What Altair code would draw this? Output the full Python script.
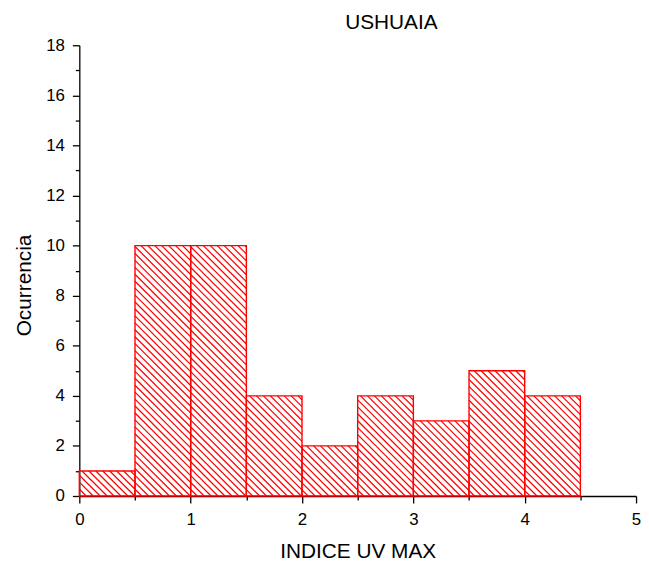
import math
import altair as alt
import pandas as pd

# ---- data ----
bin_start = [0.0, 0.5, 1.0, 1.5, 2.0, 2.5, 3.0, 3.5, 4.0]
bin_end = [0.5, 1.0, 1.5, 2.0, 2.5, 3.0, 3.5, 4.0, 4.5]
counts = [1, 10, 10, 4, 2, 4, 3, 5, 4]

x_ticks = [0, 0.5, 1, 1.5, 2, 2.5, 3, 3.5, 4, 4.5, 5]
y_ticks = list(range(0, 19))

W, H = 562, 455
XMAX, YMAX = 5, 18
FONT = "Liberation Sans"
RED = "#ff0000"

bars = pd.DataFrame({"x0": bin_start, "x1": bin_end, "y0": [0] * len(counts), "y1": counts})

# hatch lines ("\\" pattern) derived from each bar, in data units
sx, sy = W / XMAX, H / YMAX
d = 7.0  # horizontal hatch spacing in px
rows = []
for a, b, h in zip(bin_start, bin_end, counts):
    X0, X1, Ht = a * sx, b * sx, h * sy
    k0 = math.ceil(X0 / d)
    k1 = math.floor((X1 + Ht) / d)
    for k in range(k0, k1 + 1):
        c = k * d
        xa, xb = max(X0, c - Ht), min(X1, c)
        if xb - xa < 0.3:
            continue
        rows.append({"x0": xa / sx, "x1": xb / sx, "y0": (c - xa) / sy, "y1": (c - xb) / sy})
hatch = pd.DataFrame(rows)

xscale = alt.Scale(domain=[0, XMAX], nice=False, zero=False)
yscale = alt.Scale(domain=[0, YMAX], nice=False, zero=False)

xaxis = alt.Axis(
    values=x_ticks,
    labelExpr="datum.value % 1 == 0 ? toString(datum.value) : ''",
    tickSize={"condition": {"test": "datum.value % 1 != 0", "value": 4}, "value": 7},
    title="INDICE UV MAX",
    titleX=281, titleY=62, titleBaseline="alphabetic", titleAlign="center",
    labelPadding=9,
)
yaxis = alt.Axis(
    values=y_ticks,
    labelExpr="datum.value % 2 == 0 ? toString(datum.value) : ''",
    tickSize={"condition": {"test": "datum.value % 2 != 0", "value": 4}, "value": 7},
    title="Ocurrencia",
    titleX=-49, titleY=242, titleAngle=270, titleBaseline="alphabetic", titleAlign="center",
    labelPadding=8,
)

enc = dict(
    x=alt.X("x0:Q", scale=xscale, axis=xaxis),
    x2="x1:Q",
    y=alt.Y("y0:Q", scale=yscale, axis=yaxis),
    y2="y1:Q",
)

hatch_layer = alt.Chart(hatch).mark_rule(color=RED, stroke=RED, strokeWidth=1.25, opacity=1).encode(**enc)
bar_layer = alt.Chart(bars).mark_rect(fill="transparent", stroke=RED, strokeWidth=1.4).encode(**enc)

chart = (
    alt.layer(hatch_layer, bar_layer)
    .properties(
        width=W,
        height=H,
        autosize=alt.AutoSizeParams(type="none"),
        padding={"left": 72, "top": 35, "right": 5, "bottom": 63},
        background="white",
        title=alt.TitleParams(
            "USHUAIA", font=FONT, fontSize=21, fontWeight="normal", color="black",
            anchor="middle", dx=34, dy=20, offset=6, baseline="alphabetic",
        ),
    )
    .configure_view(strokeWidth=0)
    .configure_axis(
        grid=False,
        domainColor="black", domainWidth=1.3,
        tickColor="black", tickWidth=1.3,
        labelFont=FONT, labelFontSize=17, labelColor="black",
        labelOverlap=False, labelFlush=False,
        titleFont=FONT, titleFontSize=21, titleFontWeight="normal", titleColor="black",
    )
)

chart.save("out.html", embed_options={"renderer": "svg", "actions": False})
